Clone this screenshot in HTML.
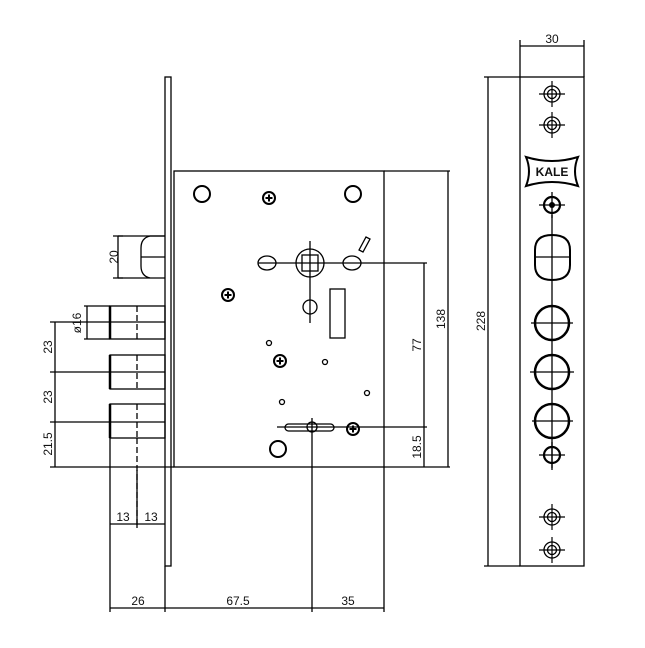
<!DOCTYPE html>
<html><head><meta charset="utf-8"><style>
html,body{margin:0;padding:0;background:#fff;}
svg{display:block;}
text{font-family:"Liberation Sans",sans-serif;font-size:12px;fill:#111;}
</style></head><body>
<svg width="645" height="648" viewBox="0 0 645 648" xmlns="http://www.w3.org/2000/svg">
<defs>
<g id="scr"><circle r="6" fill="none" stroke="#000" stroke-width="2"/><path d="M-3.5 0H3.5M0 -3.5V3.5" stroke="#000" stroke-width="2"/></g>
<g id="tgt"><circle r="8" fill="none" stroke="#000" stroke-width="1.3"/><circle r="4.5" fill="none" stroke="#000" stroke-width="1.3"/><path d="M-13 0H13M0 -13V13" stroke="#000" stroke-width="1.2"/></g>
</defs>
<g fill="none" stroke="#000" stroke-width="1.3">
<!-- faceplate side -->
<rect x="165" y="77" width="6" height="489"/>
<!-- box -->
<rect x="174" y="171" width="210" height="296"/>
<!-- latch -->
<path d="M118 236H165M118 278H165M141 257H165"/>
<path d="M165 236H150Q141 238 141 248V266Q141 276 150 278"/>
<!-- bolts -->
<rect x="110" y="306" width="55" height="33" stroke-width="1.3"/>
<rect x="110" y="355" width="55" height="34"/>
<rect x="110" y="404" width="55" height="34"/>
<path d="M110 306V339M110 355V389M110 404V438" stroke-width="2.5"/>
<path d="M110 322H165M110 372H165M110 422H165"/>
<path d="M137 306V339M137 355V389M137 404V438M137 438V525" stroke-dasharray="6 3"/>
<path d="M110 438V612M137 470V528M165 566V612M312 418V612M384 467V612"/>
<path d="M84 306H110M84 339H110M87 306V339"/>
<!-- left dims -->
<path d="M118 236V278M113 236H123M113 278H123"/>
<path d="M55 322V467M50 322H110M50 372H110M50 422H110M50 467H174"/>
<!-- bottom dims -->
<path d="M110 524H165M110 608H384"/>
<!-- right dims -->
<path d="M384 171H450M348 263H427M277 427H427M384 467H450M448 171V467M424 263V467"/>
<!-- right faceplate -->
<rect x="520" y="77" width="64" height="489"/>
<path d="M484 77H520M484 566H520M488 77V566M520 40V77M584 40V77M520 46H584"/>
<path d="M552 215V470"/>
<!-- interior -->
<circle cx="202" cy="194" r="8" stroke-width="2"/>
<circle cx="353" cy="194" r="8" stroke-width="2"/>
<circle cx="278" cy="449" r="8" stroke-width="2"/>
<circle cx="310" cy="263" r="14"/>
<rect x="302" y="255" width="16" height="16"/>
<path d="M310 241V323M258 263H348"/>
<ellipse cx="267" cy="263" rx="9" ry="7"/>
<ellipse cx="352" cy="263" rx="9" ry="7"/>
<circle cx="310" cy="307" r="7"/>
<rect x="330" y="289" width="15" height="49"/>
<path d="M359 250L366 237L370 239L363 252Z"/>
<circle cx="269" cy="343" r="2.5"/>
<circle cx="325" cy="362" r="2.5"/>
<circle cx="367" cy="393" r="2.5"/>
<circle cx="282" cy="402" r="2.5"/>
<rect x="285" y="424" width="49" height="7" rx="3.5"/>
<circle cx="312" cy="427" r="5"/>
<!-- faceplate right features -->
<path d="M526 157Q552 165 578 157Q572 171 578 186Q552 178 526 186Q532 171 526 157Z" stroke-width="2"/>
<path d="M535 250Q535 235 552 235Q570 235 570 250V265Q570 280 552 280Q535 280 535 265Z" stroke-width="2"/>
<path d="M535 257H570"/>
<circle cx="552" cy="323" r="17" stroke-width="2.5"/>
<circle cx="552" cy="372" r="17" stroke-width="2.5"/>
<circle cx="552" cy="421" r="17" stroke-width="2.5"/>
<path d="M531 323H573M530 372H574M532 421H573"/>
<circle cx="552" cy="205" r="8" stroke-width="2.2"/>
<path d="M539 205H565M552 192V218"/>
<circle cx="552" cy="455" r="8" stroke-width="2.2"/>
<path d="M539 455H565M552 442V468"/>
</g>
<use href="#scr" x="269" y="198"/>
<use href="#scr" x="228" y="295"/>
<use href="#scr" x="280" y="361"/>
<use href="#scr" x="353" y="429"/>
<circle cx="552" cy="205" r="3" fill="#000"/>
<use href="#tgt" x="552" y="94"/>
<use href="#tgt" x="552" y="125"/>
<use href="#tgt" x="552" y="517"/>
<use href="#tgt" x="552" y="550"/>
<text x="552" y="176" text-anchor="middle" style="font-weight:bold;font-size:12px">KALE</text>
<!-- labels -->
<text x="552" y="43" text-anchor="middle">30</text>
<text transform="translate(118,257) rotate(-90)" text-anchor="middle">20</text>
<text transform="translate(81,323) rotate(-90)" text-anchor="middle">ø16</text>
<text transform="translate(52,347) rotate(-90)" text-anchor="middle">23</text>
<text transform="translate(52,397) rotate(-90)" text-anchor="middle">23</text>
<text transform="translate(52,444) rotate(-90)" text-anchor="middle">21.5</text>
<text x="123" y="521" text-anchor="middle">13</text>
<text x="151" y="521" text-anchor="middle">13</text>
<text x="138" y="605" text-anchor="middle">26</text>
<text x="238" y="605" text-anchor="middle">67.5</text>
<text x="348" y="605" text-anchor="middle">35</text>
<text transform="translate(421,345) rotate(-90)" text-anchor="middle">77</text>
<text transform="translate(421,447) rotate(-90)" text-anchor="middle">18.5</text>
<text transform="translate(445,319) rotate(-90)" text-anchor="middle">138</text>
<text transform="translate(485,321) rotate(-90)" text-anchor="middle">228</text>
</svg>
</body></html>
